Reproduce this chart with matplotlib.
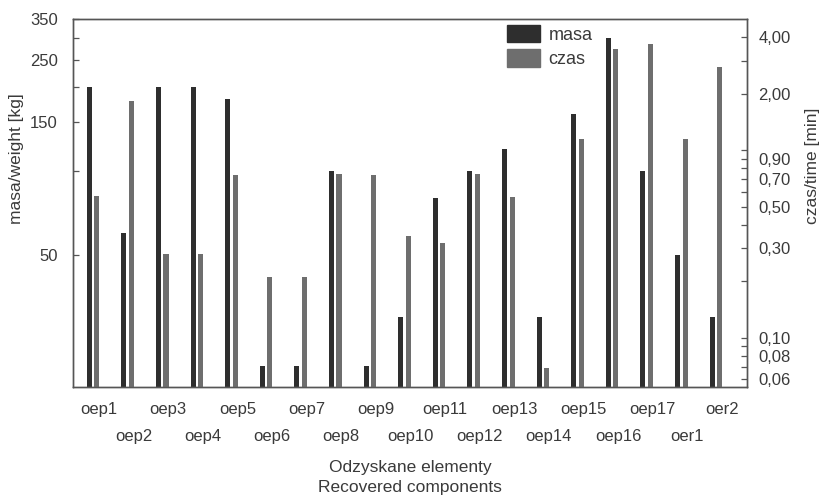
import matplotlib
matplotlib.use("Agg")
import matplotlib.pyplot as plt
import numpy as np
from matplotlib.ticker import FixedLocator, NullFormatter
from matplotlib.patches import Patch

plt.rcParams['font.family'] = ['Liberation Sans', 'DejaVu Sans']

# dane
kategorie = ['oep1', 'oep2', 'oep3', 'oep4', 'oep5', 'oep6', 'oep7', 'oep8', 'oep9',
             'oep10', 'oep11', 'oep12', 'oep13', 'oep14', 'oep15', 'oep16', 'oep17',
             'oer1', 'oer2']
masa = [200, 60, 200, 200, 181, 20, 20, 100, 20, 30, 80, 100, 120, 30, 160, 300, 100, 50, 30]
czas = [0.57, 1.83, 0.28, 0.28, 0.74, 0.21, 0.21, 0.75, 0.74, 0.35, 0.32, 0.75, 0.56,
        0.069, 1.15, 3.45, 3.66, 1.15, 2.78]

masa_ticks = [50, 150, 250, 350]
masa_minor = [100, 200, 300]
czas_ticks = [0.06, 0.08, 0.10, 0.30, 0.50, 0.70, 0.90, 2.00, 4.00]
czas_minor = [0.07, 0.09, 0.2, 0.4, 0.6, 0.8, 1.0, 3.0]

kol_masa = '#2e2e2e'
kol_czas = '#6e6e6e'
kol_tekst = '#3a3a3a'
kol_os = '#555555'

fig = plt.figure(figsize=(8.21, 4.98), dpi=100)
ax = fig.add_axes([0.0889, 0.2229, 0.8210, 0.7389])
ax2 = ax.twinx()

x = np.arange(len(kategorie))
szer = 0.145
ax.bar(x - 0.108, masa, width=szer, color=kol_masa, zorder=2)
ax2.bar(x + 0.108, czas, width=szer, color=kol_czas, zorder=2)

ax.set_xlim(-0.58, 18.9)

# lewa os - masa (log)
ax.set_yscale('log')
ax.set_ylim(16.8, 350)
ax.yaxis.set_major_locator(FixedLocator(masa_ticks))
ax.yaxis.set_minor_locator(FixedLocator(masa_minor))
ax.yaxis.set_minor_formatter(NullFormatter())
ax.set_yticklabels([str(v) for v in masa_ticks])

# prawa os - czas (log)
ax2.set_yscale('log')
ax2.set_ylim(0.0545, 5.0)
ax2.yaxis.set_major_locator(FixedLocator(czas_ticks))
ax2.yaxis.set_minor_locator(FixedLocator(czas_minor))
ax2.yaxis.set_minor_formatter(NullFormatter())
ax2.set_yticklabels([f'{v:.2f}'.replace('.', ',') for v in czas_ticks])

# etykiety kategorii w dwoch rzedach
ax.set_xticks(x[0::2] + 0.17)
ax.set_xticklabels(kategorie[0::2])
ax.set_xticks(x[1::2] + 0.17, minor=True)
ax.set_xticklabels(kategorie[1::2], minor=True)
ax.tick_params(axis='x', which='major', length=0, pad=11, labelsize=12, labelcolor=kol_tekst)
ax.tick_params(axis='x', which='minor', length=0, pad=30, labelsize=12, labelcolor=kol_tekst)

for a, p in ((ax, 11), (ax2, 8)):
    a.tick_params(axis='y', which='both', direction='in', length=4.5, width=0.9,
                  color=kol_os, labelsize=12, labelcolor=kol_tekst, pad=p)
    for s in a.spines.values():
        s.set_color(kol_os)
        s.set_linewidth(1.0)

ax.set_ylabel('masa/weight [kg]', fontsize=12.5, color=kol_tekst)
ax.yaxis.set_label_coords(-0.073, 0.62)
ax2.set_ylabel('czas/time [min]', fontsize=12.5, color=kol_tekst)
ax2.yaxis.set_label_coords(1.086, 0.60)

ax.set_xlabel('Odzyskane elementy\nRecovered components', fontsize=12.5,
              color=kol_tekst, linespacing=1.45)
ax.xaxis.set_label_coords(0.5, -0.198)
ax.xaxis.label.set_va('top')

uchwyty = [Patch(color=kol_masa, label='masa'), Patch(color=kol_czas, label='czas')]
ax2.legend(handles=uchwyty, loc='upper left', bbox_to_anchor=(0.644, 0.985),
           frameon=False, fontsize=13, handlelength=1.85, handleheight=1.15,
           handletextpad=0.45, labelspacing=0.3, borderpad=0, borderaxespad=0,
           labelcolor=kol_tekst)

fig.savefig('out.png', dpi=100, facecolor='white')
